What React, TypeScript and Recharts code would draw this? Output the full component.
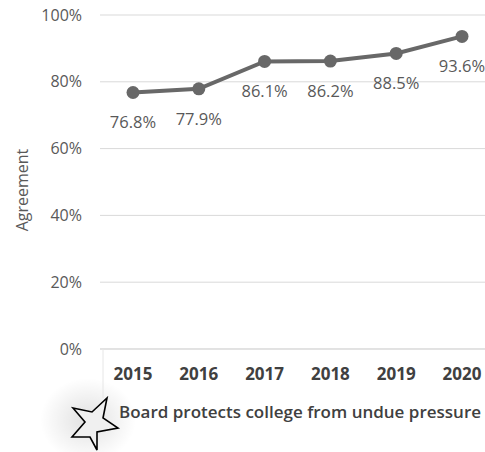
import { LineChart, Line, XAxis, YAxis, CartesianGrid, LabelList, Label } from "recharts"

const years = ["2015", "2016", "2017", "2018", "2019", "2020"]
const agreement = [0.768, 0.779, 0.861, 0.862, 0.885, 0.936]
const yTicks = [0, 0.2, 0.4, 0.6, 0.8, 1]

const chartData = years.map((year, i) => ({ year, value: agreement[i] }))

const FONT = '"Open Sans", sans-serif'
const GRID = "#d9d9d9"
const LINE = "#686868"

const starPoints = "107,398 103,418 118,428 97,432 97,450 90,437 72,437 85,422 73,408 92,412"

export default function App() {
  return (
    <div style={{ position: "absolute", left: 0, top: 0, width: 485, height: 452, overflow: "hidden", background: "#fff" }}>
      <svg width={485} height={452} style={{ position: "absolute", left: 0, top: 0 }}>
        <defs>
          <radialGradient id="glow" cx="50%" cy="50%" r="50%">
            <stop offset="0%" stopColor="#000" stopOpacity={0.12} />
            <stop offset="100%" stopColor="#000" stopOpacity={0} />
          </radialGradient>
        </defs>
        <ellipse cx={88} cy={420} rx={48} ry={42} fill="url(#glow)" />
      </svg>
      <LineChart
        width={500}
        height={452}
        data={chartData}
        margin={{ top: 15, right: 1, bottom: 0, left: 0 }}
        style={{ position: "absolute", left: 0, top: 0 }}
      >
        <CartesianGrid vertical={false} stroke={GRID} strokeWidth={1} />
        <YAxis
          domain={[0, 1]}
          ticks={yTicks}
          width={100}
          axisLine={false}
          tickLine={false}
          tickSize={0}
          tickMargin={18}
          tickFormatter={(v: number) => `${Math.round(v * 100)}%`}
          tick={{ fill: "#595959", fontSize: 16, fontFamily: FONT }}
        >
          <Label
            content={() => (
              <text
                x={0}
                y={0}
                transform="translate(28,190) rotate(-90)"
                textAnchor="middle"
                fill="#595959"
                fontSize={16}
                fontFamily={FONT}
              >
                Agreement
              </text>
            )}
          />
        </YAxis>
        <XAxis
          dataKey="year"
          height={103}
          padding={{ left: 33, right: 37 }}
          axisLine={{ stroke: GRID }}
          tickLine={false}
          tickSize={0}
          tickMargin={19}
          tick={{ fill: "#404040", fontSize: 17, fontWeight: 700, fontFamily: FONT }}
        >
          <Label
            content={() => (
              <text x={300} y={418} textAnchor="middle" fill="#404040" fontSize={17} fontWeight={600} fontFamily={FONT}>
                Board protects college from undue pressure
              </text>
            )}
          />
        </XAxis>
        <Line
          type="linear"
          dataKey="value"
          stroke={LINE}
          strokeWidth={4}
          dot={{ r: 6.5, fill: LINE, stroke: LINE, strokeWidth: 0 }}
          isAnimationActive={false}
        >
          <LabelList
            dataKey="value"
            position="bottom"
            offset={24}
            formatter={(v: number) => `${(v * 100).toFixed(1)}%`}
            style={{ fill: "#595959", fontSize: 16.5, fontFamily: FONT }}
          />
        </Line>
      </LineChart>
      <svg width={485} height={452} style={{ position: "absolute", left: 0, top: 0, pointerEvents: "none" }}>
        <line x1={103} y1={349} x2={103} y2={398} stroke="#e6e6e6" strokeWidth={1} />
        <polygon points={starPoints} fill="#f0f0f0" stroke="#000" strokeWidth={1.6} strokeLinejoin="miter" />
      </svg>
    </div>
  )
}
